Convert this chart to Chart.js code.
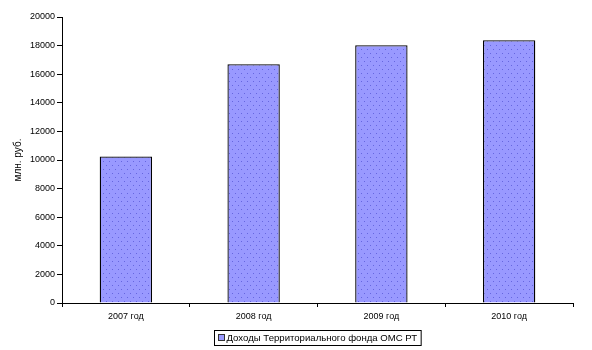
<!DOCTYPE html>
<html>
<head>
<meta charset="utf-8">
<script src="https://cdn.jsdelivr.net/npm/chart.js@4/dist/chart.umd.min.js"></script>
<style>
html,body{margin:0;padding:0;background:#fff;}
#wrap{width:592px;height:350px;position:relative;}
</style>
</head>
<body>
<div id="wrap"><canvas id="c" width="592" height="350"></canvas></div>
<script>
const categories = ["2007 год", "2008 год", "2009 год", "2010 год"];
const incomeValues = [10250, 16700, 18020, 18370];
const seriesLabel = "Доходы Территориального фонда ОМС РТ";
const axisTitle = "млн. руб.";
const yMin = 0, yMax = 20000, yStep = 2000;

function makePattern() {
  const p = document.createElement('canvas');
  p.width = 6; p.height = 8;
  const g = p.getContext('2d');
  g.fillStyle = '#9999FF';
  g.fillRect(0, 0, 6, 8);
  g.fillStyle = '#6666E0';
  g.fillRect(1, 1, 1, 1);
  g.fillRect(4, 5, 1, 1);
  return g.createPattern(p, 'repeat');
}
const pattern = makePattern();

const legendBox = {
  id: 'legendBox',
  afterDraw(chart) {
    const ctx = chart.ctx;
    const ca = chart.chartArea;
    const label = chart.data.datasets[0].label;
    ctx.save();
    ctx.font = '9.6px "Liberation Sans", Arial, sans-serif';
    const tw = ctx.measureText(label).width;
    const w = tw + 16;
    const h = 15;
    const cx = (ca.left + ca.right) / 2;
    const x = Math.round(cx - w / 2) + 0.5;
    const y = 330.5;
    ctx.fillStyle = '#fff';
    ctx.fillRect(x, y, w, h);
    ctx.strokeStyle = '#000';
    ctx.lineWidth = 1;
    ctx.strokeRect(x, y, w, h);
    ctx.fillStyle = '#9999FF';
    ctx.fillRect(x + 4, y + 4, 6, 6);
    ctx.strokeStyle = '#333';
    ctx.strokeRect(x + 4, y + 4, 6, 6);
    ctx.fillStyle = '#000';
    ctx.textBaseline = 'middle';
    ctx.textAlign = 'left';
    ctx.fillText(label, x + 12, y + h / 2 + 0.5);
    ctx.restore();
  }
};

new Chart(document.getElementById('c'), {
  type: 'bar',
  data: {
    labels: categories,
    datasets: [{
      label: seriesLabel,
      data: incomeValues,
      backgroundColor: pattern,
      borderColor: '#000',
      borderWidth: 1.3,
      borderSkipped: 'bottom',
      categoryPercentage: 1,
      barPercentage: 0.41
    }]
  },
  options: {
    responsive: false,
    animation: false,
    devicePixelRatio: 1,
    layout: { padding: { top: 17, right: 19, bottom: 23, left: 0 } },
    plugins: { legend: { display: false }, tooltip: { enabled: false } },
    scales: {
      x: {
        grid: { display: true, drawOnChartArea: false, color: '#000', tickLength: 4, offset: true },
        border: { display: true, color: '#000', width: 1 },
        ticks: { color: '#000', font: { family: '"Liberation Sans", Arial, sans-serif', size: 9 }, padding: 4, maxRotation: 0 },
        afterFit(s) { s.height = 24; }
      },
      y: {
        min: yMin, max: yMax,
        grid: { display: true, drawOnChartArea: false, color: '#000', tickLength: 5 },
        border: { display: true, color: '#000', width: 1 },
        ticks: { stepSize: yStep, color: '#000', font: { family: '"Liberation Sans", Arial, sans-serif', size: 9 }, padding: 2, callback: v => String(v) },
        title: { display: true, text: axisTitle, color: '#000', font: { family: '"Liberation Sans", Arial, sans-serif', size: 10 }, padding: { top: 12, bottom: 0 } },
        afterFit(s) { s.width = 62; }
      }
    }
  },
  plugins: [legendBox]
});
</script>
</body>
</html>
